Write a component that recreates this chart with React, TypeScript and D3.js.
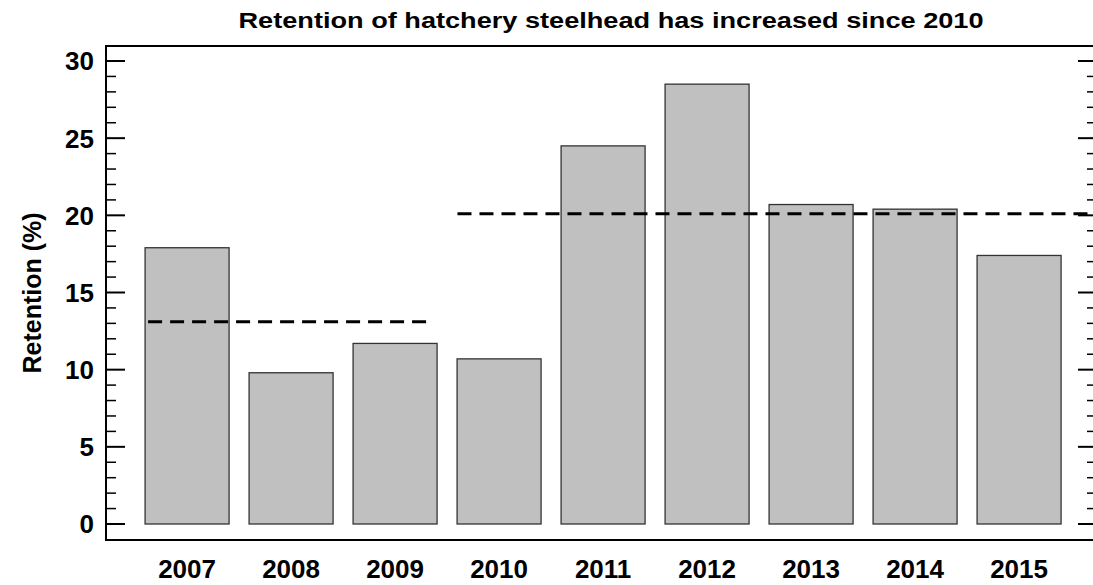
import React from "react";
import * as d3 from "d3";

const years = [2007, 2008, 2009, 2010, 2011, 2012, 2013, 2014, 2015];
const retention = [17.9, 9.8, 11.7, 10.7, 24.5, 28.5, 20.7, 20.4, 17.4];
const meanSegments = [
  { x0: 2006.625, x1: 2009.34, v: 13.1 },
  { x0: 2009.6, x1: 2015.7, v: 20.1 },
];
const yTicks = [0, 5, 10, 15, 20, 25, 30];

export default function App() {
  const W = 1093, H = 585;
  const L = 106, R = 1095, T = 46, B = 540;
  const x = d3.scaleLinear().domain([2006.23, 2015.73]).range([107, 1095]);
  const y = d3.scaleLinear().domain([0, 30]).range([524, 61]);
  const bw = 84;
  const minor = d3.range(0, 31, 1).filter((v) => v % 5 !== 0);
  const font = "Liberation Sans, Arial, sans-serif";
  return (
    <svg width={W} height={H} style={{ position: "absolute", left: 0, top: 0 }} fontFamily={font}>
      <text x={611} y={28} textAnchor="middle" fontSize={22} fontWeight="bold" textLength={745} lengthAdjust="spacingAndGlyphs">
        Retention of hatchery steelhead has increased since 2010
      </text>
      {years.map((yr, i) => (
        <rect key={yr} x={x(yr) - bw / 2} y={y(retention[i])} width={bw} height={y(0) - y(retention[i])}
          fill="#c0c0c0" stroke="#333" strokeWidth={1.3} />
      ))}
      {meanSegments.map((s, i) => (
        <line key={i} x1={x(s.x0)} x2={x(s.x1)} y1={y(s.v)} y2={y(s.v)} stroke="#000" strokeWidth={3} strokeDasharray="14,8" />
      ))}
      <rect x={L} y={T} width={R - L} height={B - T} fill="none" stroke="#000" strokeWidth={2} />
      {yTicks.map((t) => (
        <g key={t}>
          <line x1={L} x2={L + 19} y1={y(t)} y2={y(t)} stroke="#000" strokeWidth={2} />
          <line x1={R - 17} x2={R} y1={y(t)} y2={y(t)} stroke="#000" strokeWidth={2} />
          <text x={L - 12} y={y(t)} dy="0.36em" textAnchor="end" fontSize={26} fontWeight="bold">{t}</text>
        </g>
      ))}
      {minor.map((t) => (
        <g key={t}>
          <line x1={L} x2={L + 10} y1={y(t)} y2={y(t)} stroke="#000" strokeWidth={1.5} />
          <line x1={R - 8} x2={R} y1={y(t)} y2={y(t)} stroke="#000" strokeWidth={1.5} />
        </g>
      ))}
      {years.map((yr) => (
        <text key={yr} x={x(yr)} y={578} textAnchor="middle" fontSize={26} fontWeight="bold">{yr}</text>
      ))}
      <text transform={`translate(41,${(T + B) / 2}) rotate(-90)`} textAnchor="middle" fontSize={25} fontWeight="bold">
        Retention (%)
      </text>
    </svg>
  );
}
